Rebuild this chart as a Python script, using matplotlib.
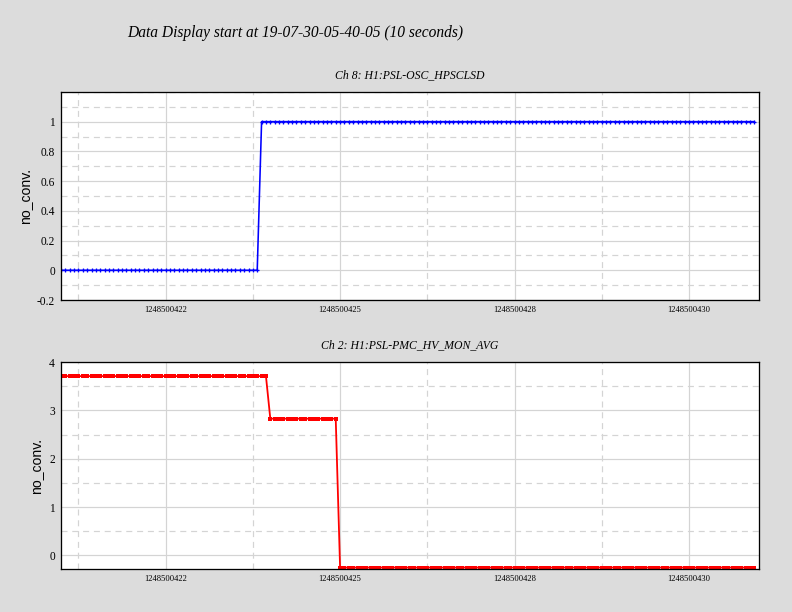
import numpy as np
import matplotlib.pyplot as plt
from matplotlib.ticker import FixedLocator, FixedFormatter, MultipleLocator

t_start = 1248500421.0
rate = 16
n_samples = 160

ch8_levels = [0.0, 1.0]
ch8_counts = [46, 114]

ch2_levels = [3.71, 2.83, -0.25]
ch2_counts = [48, 16, 96]

x_ticks = [1248500422.5, 1248500425.0, 1248500427.5, 1248500430.0]
x_labels = ['1248500422', '1248500425', '1248500428', '1248500430']

title = 'Data Display start at 19-07-30-05-40-05 (10 seconds)'
ch8_title = 'Ch 8: H1:PSL-OSC_HPSCLSD'
ch2_title = 'Ch 2: H1:PSL-PMC_HV_MON_AVG'

t = t_start + np.arange(n_samples) / rate
ch8 = np.repeat(ch8_levels, ch8_counts)
ch2 = np.repeat(ch2_levels, ch2_counts)

serif = ['Liberation Serif', 'DejaVu Serif']
bg = '#dcdcdc'
grid_c = '#d4d4d4'

fig = plt.figure(figsize=(11, 8.5), dpi=72, facecolor=bg)
fig.text(0.16, 0.946, title, fontsize=15.5, style='italic', family=serif,
         ha='left', va='center')

ax1 = fig.add_axes([0.077, 0.5098, 0.881, 0.340])
ax2 = fig.add_axes([0.077, 0.0703, 0.881, 0.338])


def style_axis(ax, sub_title, ylim, y_major, y_minor, label_x):
    ax.set_facecolor('white')
    ax.set_xlim(t_start, t_start + 10)
    ax.set_ylim(*ylim)
    ax.xaxis.set_major_locator(FixedLocator(x_ticks))
    ax.xaxis.set_major_formatter(FixedFormatter(x_labels))
    ax.xaxis.set_minor_locator(FixedLocator([x - 1.25 for x in x_ticks]))
    ax.yaxis.set_major_locator(FixedLocator(y_major))
    ax.yaxis.set_major_formatter(FixedFormatter([f'{v:g}' for v in y_major]))
    ax.yaxis.set_minor_locator(MultipleLocator(y_minor))
    ax.grid(which='major', color=grid_c, lw=1.2, ls='-')
    ax.grid(which='minor', color=grid_c, lw=1.2, ls=(0, (5, 4)))
    ax.set_axisbelow(True)
    ax.tick_params(which='both', length=0)
    ax.tick_params(axis='x', labelsize=8.5, pad=6)
    ax.tick_params(axis='y', labelsize=11.5, pad=6)
    for lab in ax.get_xticklabels() + ax.get_yticklabels():
        lab.set_family(serif)
    for sp in ax.spines.values():
        sp.set_linewidth(1.3)
    ax.set_ylabel('no_conv.', fontsize=14, family=['Liberation Sans', 'DejaVu Sans'])
    ax.yaxis.set_label_coords(label_x, 0.5)
    ax.set_title(sub_title, fontsize=11.8, style='italic', family=serif, pad=14)


style_axis(ax1, ch8_title, (-0.2, 1.2),
           [-0.2, 0, 0.2, 0.4, 0.6, 0.8, 1.0], 0.1, -0.042)
style_axis(ax2, ch2_title, (-0.28, 4.0),
           [0, 1, 2, 3, 4], 0.5, -0.026)

ax1.plot(t, ch8, color='#0000ff', lw=1.6, marker='+', ms=4.5, mew=1.3)
ax2.plot(t, ch2, color='#ff0000', lw=1.8, marker='s', ms=3.4, mew=0)

fig.savefig('out.png', dpi=72, facecolor=bg)
